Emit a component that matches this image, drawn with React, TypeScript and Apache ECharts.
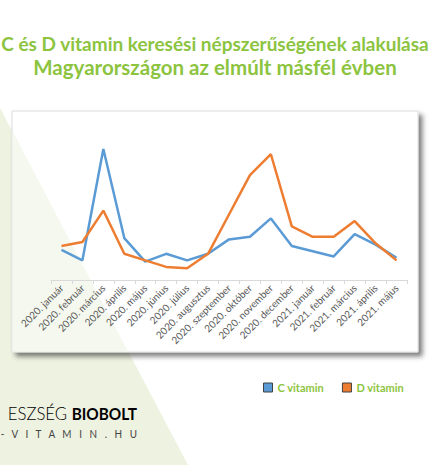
import React, { useEffect, useRef } from "react";
import * as echarts from "echarts";

const categories = [
  "2020. január", "2020. február", "2020. március", "2020. április", "2020. május",
  "2020. június", "2020. július", "2020. augusztus", "2020. szeptember", "2020. október",
  "2020. november", "2020. december", "2021. január", "2021. február", "2021. március",
  "2021. április", "2021. május",
];
const cVitamin = [23, 15, 100, 32, 14, 20, 15, 20, 31, 33, 47, 26, 22, 18, 35, 27, 17];
const dVitamin = [26, 29, 53, 20, 15, 10, 9, 20, 50, 80, 96, 41, 33, 33, 45, 28, 15];
const seriesNames = ["C vitamin", "D vitamin"];
const titleLines = ["C és D vitamin keresési népszerűségének alakulása", "Magyarországon az elmúlt másfél évben"];
const logoLines = ["ESZSÉG ", "BIOBOLT", "-   V   I   T   A   M   I   N   .   H   U"];

const GREEN = "#8cc43f";
const FONT = "Lato, 'Open Sans', sans-serif";

export default function App() {
  const ref = useRef<HTMLDivElement>(null);
  useEffect(() => {
    if (!ref.current) return;
    const chart = echarts.init(ref.current, null, { renderer: "svg" });
    chart.setOption({
      animation: false,
      backgroundColor: "#ffffff",
      graphic: [
        {
          type: "polygon",
          z: 0,
          shape: { points: [[0, 108], [188, 465], [0, 465]] },
          style: { fill: "#eef2e1" },
        },
        {
          type: "rect",
          z: 1,
          shape: { x: 12, y: 111, width: 406, height: 241 },
          style: {
            fill: "#ffffff",
            stroke: "#dcdcdc",
            lineWidth: 1,
            shadowColor: "rgba(0,0,0,0.5)",
            shadowBlur: 5,
            shadowOffsetX: 4,
            shadowOffsetY: 4,
          },
        },
        {
          type: "polygon",
          z: 1,
          shape: { points: [[12.5, 131], [128, 351.5], [12.5, 351.5]] },
          style: { fill: "#f5f8ee" },
        },
        {
          type: "text",
          z: 3,
          style: {
            text: titleLines[0],
            x: 215,
            y: 43,
            align: "center",
            verticalAlign: "middle",
            fill: GREEN,
            font: `bold 19px ${FONT}`,
          },
        },
        {
          type: "text",
          z: 3,
          style: {
            text: titleLines[1],
            x: 215,
            y: 67,
            align: "center",
            verticalAlign: "middle",
            fill: GREEN,
            font: `bold 20.5px ${FONT}`,
          },
        },
        {
          type: "text",
          z: 3,
          x: 137,
          y: 413,
          scaleX: 0.93,
          style: {
            text: `{a|${logoLines[0]}}{b|${logoLines[1]}}`,
            x: 0,
            y: 0,
            align: "right",
            verticalAlign: "middle",
            rich: {
              a: { fontSize: 18, fontFamily: FONT, fontWeight: 300, color: "#3a3a3a" },
              b: { fontSize: 16.5, fontFamily: FONT, fontWeight: "bold", color: "#3a3a3a" },
            },
          },
        },
        {
          type: "text",
          z: 3,
          x: 137,
          y: 434,
          scaleX: 0.9,
          style: {
            text: logoLines[2],
            x: 0,
            y: 0,
            align: "right",
            verticalAlign: "middle",
            fill: "#444444",
            font: `11px ${FONT}`,
          },
        },
      ],
      legend: {
        data: seriesNames,
        left: 258,
        top: 377,
        icon: "rect",
        itemWidth: 9,
        itemHeight: 9,
        itemGap: 18,
        itemStyle: { borderColor: "#404040", borderWidth: 1 },
        textStyle: { color: GREEN, fontWeight: "bold", fontSize: 11, fontFamily: FONT },
      },
      grid: { left: 51, right: 23, top: 149, bottom: 185, containLabel: false },
      xAxis: {
        type: "category",
        data: categories,
        boundaryGap: true,
        z: 4,
        axisLine: { lineStyle: { color: "#d9d9d9", width: 1 } },
        axisTick: { show: true, length: 4, lineStyle: { color: "#d9d9d9" } },
        axisLabel: {
          interval: 0,
          rotate: 45,
          fontSize: 10,
          margin: 6,
          color: "#595959",
          fontFamily: FONT,
        },
      },
      yAxis: { type: "value", min: 0, max: 100, show: false, splitLine: { show: false } },
      series: [
        {
          name: seriesNames[0],
          type: "line",
          data: cVitamin,
          symbol: "none",
          color: "#5b9bd5",
          lineStyle: { width: 2.5, color: "#5b9bd5" },
          itemStyle: { color: "#5b9bd5" },
          z: 5,
        },
        {
          name: seriesNames[1],
          type: "line",
          data: dVitamin,
          symbol: "none",
          color: "#ed7d31",
          lineStyle: { width: 2.5, color: "#ed7d31" },
          itemStyle: { color: "#ed7d31" },
          z: 6,
        },
      ],
    });
    return () => chart.dispose();
  }, []);
  return (
    <div
      ref={ref}
      style={{ position: "absolute", left: 0, top: 0, width: 430, height: 465 }}
    />
  );
}
